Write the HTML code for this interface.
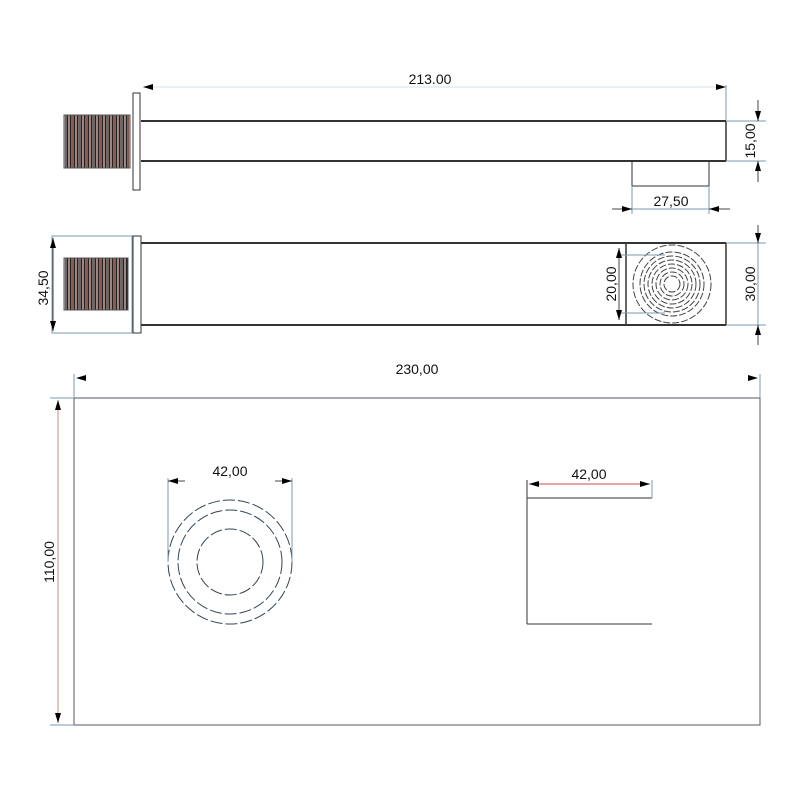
<!DOCTYPE html>
<html><head><meta charset="utf-8"><style>
html,body{margin:0;padding:0;background:#fff;}
svg{display:block}
text{font-family:"Liberation Sans",sans-serif;font-size:14px;fill:#111}
</style></head><body>
<svg width="800" height="800" viewBox="0 0 800 800" xmlns="http://www.w3.org/2000/svg">
<defs>
<marker id="a" viewBox="0 0 10 6" refX="10" refY="3" markerWidth="10" markerHeight="6" markerUnits="userSpaceOnUse" orient="auto-start-reverse"><path d="M0,0 L10,3 L0,6z" fill="#000"/></marker>
<pattern id="th" width="3.5" height="10" patternUnits="userSpaceOnUse">
<rect width="3.5" height="10" fill="#ddd"/>
<rect x="0" width="1.6" height="10" fill="#222"/>
<rect x="2" width="1.2" height="10" fill="#8a5a50"/>
</pattern>
</defs>
<g stroke="#333" fill="none" stroke-width="1">
<!-- TOP VIEW -->
<rect x="64" y="115" width="66" height="53" fill="url(#th)" stroke="#555"/>
<rect x="133" y="93" width="7" height="97"/>
<line x1="141" y1="121" x2="726" y2="121" stroke-width="2"/>
<line x1="141" y1="161" x2="726" y2="161" stroke-width="2"/>
<line x1="726" y1="121" x2="726" y2="161" stroke-width="1.5"/>
<rect x="632" y="161" width="77" height="25"/>
<line x1="726" y1="85" x2="726" y2="120" stroke="#7a9ab0"/>
<line x1="143" y1="87" x2="726" y2="87" stroke="#7a9ab0" stroke-opacity="0.3" marker-start="url(#a)" marker-end="url(#a)"/>
<line x1="726" y1="121" x2="766" y2="121" stroke="#7a9ab0"/>
<line x1="726" y1="161" x2="766" y2="161" stroke="#7a9ab0"/>
<line x1="758" y1="100" x2="758" y2="121" stroke="#444" marker-end="url(#a)"/>
<line x1="758" y1="182" x2="758" y2="161" stroke="#444" marker-end="url(#a)"/>
<line x1="632" y1="186" x2="632" y2="214" stroke="#7a9ab0"/>
<line x1="709" y1="186" x2="709" y2="214" stroke="#7a9ab0"/>
<line x1="612" y1="209" x2="632" y2="209" stroke="#444" marker-end="url(#a)"/>
<line x1="730" y1="209" x2="709" y2="209" stroke="#444" marker-end="url(#a)"/>
<line x1="632" y1="209" x2="709" y2="209" stroke="#7a9ab0"/>
<!-- MIDDLE VIEW -->
<rect x="52" y="236" width="80" height="97" stroke="#7a9ab0"/>
<rect x="64" y="258" width="64" height="52" fill="url(#th)" stroke="#555"/>
<rect x="133" y="236" width="8" height="97"/>
<line x1="141" y1="243" x2="726" y2="243" stroke-width="2"/>
<line x1="141" y1="325" x2="726" y2="325" stroke-width="2"/>
<line x1="626" y1="243" x2="626" y2="325" stroke-width="1.5"/>
<line x1="726" y1="243" x2="726" y2="325" stroke-width="1.5"/>
<line x1="53" y1="238" x2="53" y2="331" stroke="#444" marker-start="url(#a)" marker-end="url(#a)"/>
<g stroke-dasharray="7,2" stroke="#444">
<circle cx="672" cy="284" r="39"/>
<circle cx="672" cy="284" r="32"/>
<circle cx="672" cy="284" r="28"/>
<circle cx="672" cy="284" r="24"/>
<circle cx="672" cy="284" r="20"/>
<circle cx="672" cy="284" r="16"/>
<circle cx="672" cy="284" r="12"/>
<circle cx="672" cy="284" r="8"/>
</g>
<line x1="619" y1="255" x2="665" y2="255" stroke="#7a9ab0"/>
<line x1="619" y1="313" x2="665" y2="313" stroke="#7a9ab0"/>
<line x1="619" y1="248" x2="619" y2="320" stroke="#444" marker-start="url(#a)" marker-end="url(#a)"/>
<line x1="726" y1="243" x2="766" y2="243" stroke="#7a9ab0"/>
<line x1="726" y1="325" x2="766" y2="325" stroke="#7a9ab0"/>
<line x1="758" y1="225" x2="758" y2="243" stroke="#444" marker-end="url(#a)"/>
<line x1="758" y1="345" x2="758" y2="325" stroke="#444" marker-end="url(#a)"/>
<line x1="758" y1="243" x2="758" y2="325" stroke="#7a9ab0"/>
<!-- BOTTOM VIEW -->
<rect x="74" y="398" width="686" height="327" stroke="#556"/>
<line x1="74" y1="374" x2="74" y2="398" stroke="#7a9ab0"/>
<line x1="760" y1="374" x2="760" y2="398" stroke="#7a9ab0"/>
<line x1="76" y1="378" x2="758" y2="378" stroke="#444" stroke-opacity="0" marker-start="url(#a)" marker-end="url(#a)"/>
<line x1="58" y1="400" x2="58" y2="723" stroke="#c09080" marker-start="url(#a)" marker-end="url(#a)"/>
<line x1="50" y1="398" x2="74" y2="398" stroke="#7a9ab0"/>
<line x1="50" y1="725" x2="74" y2="725" stroke="#7a9ab0"/>
<g stroke-dasharray="12,3" stroke="#345">
<circle cx="230" cy="562" r="62"/>
<circle cx="230" cy="562" r="52"/>
<circle cx="230" cy="562" r="33"/>
</g>
<line x1="168" y1="478" x2="168" y2="562" stroke="#7a9ab0"/>
<line x1="292" y1="478" x2="292" y2="562" stroke="#7a9ab0"/>
<line x1="168" y1="481" x2="185" y2="481" stroke="#444" marker-start="url(#a)"/>
<line x1="275" y1="481" x2="292" y2="481" stroke="#444" marker-end="url(#a)"/>
<line x1="527" y1="498" x2="652" y2="498"/>
<line x1="527" y1="624" x2="652" y2="624"/>
<line x1="527" y1="480" x2="527" y2="624"/>
<line x1="652" y1="480" x2="652" y2="498" stroke="#7a9ab0"/>
<line x1="529" y1="484" x2="650" y2="484" stroke="#c05050" marker-start="url(#a)" marker-end="url(#a)"/>
</g>
<text x="430" y="84" text-anchor="middle">213.00</text>
<text x="671" y="206" text-anchor="middle">27,50</text>
<text transform="translate(755,141) rotate(-90)" text-anchor="middle">15,00</text>
<text transform="translate(48,288) rotate(-90)" text-anchor="middle">34,50</text>
<text transform="translate(616,284) rotate(-90)" text-anchor="middle">20,00</text>
<text transform="translate(755,284) rotate(-90)" text-anchor="middle">30,00</text>
<text x="417" y="374" text-anchor="middle">230,00</text>
<text transform="translate(54,562) rotate(-90)" text-anchor="middle">110,00</text>
<text x="230" y="476" text-anchor="middle">42,00</text>
<text x="589" y="479" text-anchor="middle">42,00</text>
</svg>
</body></html>
